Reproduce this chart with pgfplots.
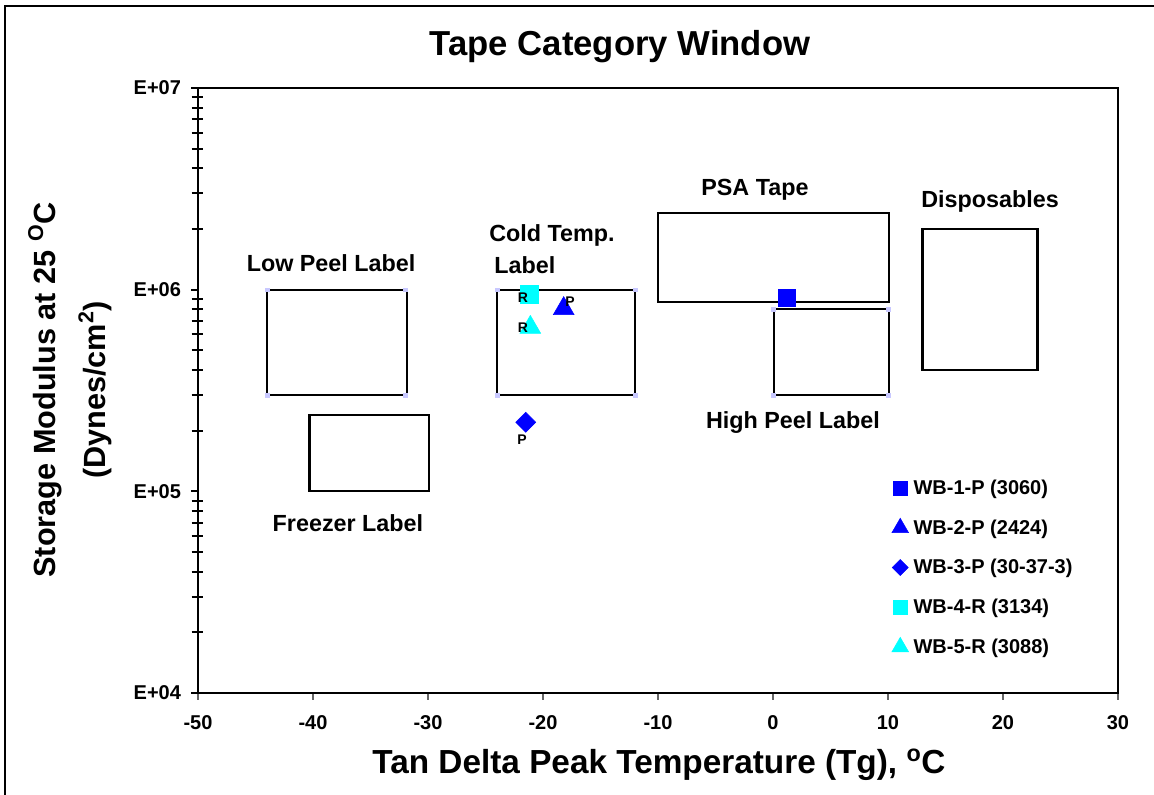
\documentclass[border=0pt]{standalone}
\usepackage{pgfplots}
\pgfplotsset{compat=1.18}
\usepackage{fontspec}
\setmainfont{Liberation Sans}
\definecolor{wbblue}{RGB}{0,0,255}
\definecolor{wbcyan}{RGB}{0,255,255}
\definecolor{lav}{RGB}{200,200,255}
\begin{document}
\begin{tikzpicture}
\useasboundingbox (0,0) rectangle (865.5pt,-596.25pt);
\draw[line width=1.5pt] (3.6pt,-600pt) -- (3.6pt,-4.5pt) -- (870pt,-4.5pt);
\node[font=\fontsize{26}{30}\selectfont\bfseries] at (465pt,-35.25pt) {Tape Category Window};
\node[font=\fontsize{25}{30}\selectfont\bfseries] at (494.25pt,-573.75pt) {Tan Delta Peak Temperature (Tg), \textsuperscript{o}C};
\node[rotate=90,font=\fontsize{23}{28}\selectfont\bfseries] at (33.75pt,-292.5pt) {Storage Modulus at 25 \textsuperscript{O}C};
\node[rotate=90,font=\fontsize{23}{28}\selectfont\bfseries] at (71.25pt,-292.5pt) {(Dynes/cm\textsuperscript{2})};
\begin{axis}[at={(148.5pt,-519.75pt)}, anchor=south west, scale only axis,
  width=690pt, height=453.75pt,
  xmin=-50, xmax=30, ymode=log, ymin=1e4, ymax=1e7,
  xtick={-50,-40,...,30}, xticklabels={-50,-40,-30,-20,-10,0,10,20,30},
  ytick={1e4,1e5,1e6,1e7}, yticklabels={E+04,E+05,E+06,E+07},
  minor ytick={2e4,3e4,4e4,5e4,6e4,7e4,8e4,9e4,2e5,3e5,4e5,5e5,6e5,7e5,8e5,9e5,2e6,3e6,4e6,5e6,6e6,7e6,8e6,9e6},
  xtick pos=bottom, ytick pos=left, tick align=outside,
  major tick length=5.25pt, minor tick length=8.5pt,
  minor y tick style={xshift=3.8pt},
  axis line style={line width=1.7pt},
  y tick style={line width=1.5pt, black},
  x tick style={line width=0.8pt, black!60},
  ticklabel style={font=\fontsize{15}{18}\selectfont\bfseries},
  xticklabel style={yshift=-8pt},
  yticklabel style={xshift=-4pt},
  clip=false,
  legend style={at={(rel axis cs:0.754,0.357)}, anchor=north west, draw=none, fill=none,
    font=\fontsize{15}{17}\selectfont\bfseries, row sep=13.4pt, inner sep=0pt},
  legend cell align=left,
  legend image code/.code={\path[draw=none,fill=none] (0pt,0pt) -- (14pt,0pt); \draw[#1, /tikz/every mark/.append style={scale=0.8}] plot coordinates {(6pt,0pt)};},
]
% box corner markers (light)
\addplot[only marks, mark=square*, mark size=1.4pt, lav, forget plot] coordinates {
 (-44,3e5)(-32,3e5)(-32,1e6)(-44,1e6)
 (-24,3e5)(-12,3e5)(-12,1e6)(-24,1e6)
 (0,3e5)(10,3e5)(10,8e5)(0,8e5)};
% category boxes
\addplot[black, line width=1.7pt, line cap=rect, forget plot] coordinates {(-44,3e5)(-31.8,3e5)(-31.8,1e6)(-44,1e6)(-44,3e5)};
\addplot[black, line width=1.7pt, line cap=rect, forget plot] coordinates {(-40.3,1e5)(-29.9,1e5)(-29.9,2.4e5)(-40.3,2.4e5)(-40.3,1e5)};
\addplot[black, line width=1.7pt, line cap=rect, forget plot] coordinates {(-24,3e5)(-12,3e5)(-12,1e6)(-24,1e6)(-24,3e5)};
\addplot[black, line width=1.7pt, line cap=rect, forget plot] coordinates {(-10,8.7e5)(10.1,8.7e5)(10.1,2.4e6)(-10,2.4e6)(-10,8.7e5)};
\addplot[black, line width=1.7pt, line cap=rect, forget plot] coordinates {(0.1,3e5)(10.1,3e5)(10.1,8e5)(0.1,8e5)(0.1,3e5)};
\addplot[black, line width=1.7pt, line cap=rect, forget plot] coordinates {(13,4e5)(23,4e5)(23,2e6)(13,2e6)(13,4e5)};
% samples
\addplot[only marks, mark=square*, mark size=6.3pt, wbblue] coordinates {(1.2,9.1e5)};
\addlegendentry{WB-1-P (3060)}
\addplot[only marks, mark=triangle*, mark size=9pt, wbblue] coordinates {(-18.2,8.05e5)};
\addlegendentry{WB-2-P (2424)}
\addplot[only marks, mark=square*, mark size=5.3pt, mark options={rotate=45}, wbblue] coordinates {(-21.5,2.2e5)};
\addlegendentry{WB-3-P (30-37-3)}
\addplot[only marks, mark=square*, mark size=6.5pt, wbcyan] coordinates {(-21.2,9.5e5)};
\addlegendentry{WB-4-R (3134)}
\addplot[only marks, mark=triangle*, mark size=9pt, wbcyan] coordinates {(-21.1,6.5e5)};
\addlegendentry{WB-5-R (3088)}
% anchors for point labels (drawn after the axis, above the marks)
\coordinate (lR1) at (rel axis cs:0.3533,0.6529);
\coordinate (lP1) at (rel axis cs:0.4043,0.6463);
\coordinate (lR2) at (rel axis cs:0.3533,0.6033);
\coordinate (lP2) at (rel axis cs:0.3522,0.4182);
% box labels
\tikzset{boxlab/.style={font=\fontsize{17.5}{21}\selectfont\bfseries}}
\node[boxlab] at (rel axis cs:0.6054,0.8314) {PSA Tape};
\node[boxlab] at (rel axis cs:0.8609,0.8116) {Disposables};
\node[boxlab] at (rel axis cs:0.3848,0.7570) {Cold Temp.};
\node[boxlab] at (rel axis cs:0.3554,0.7074) {Label};
\node[boxlab] at (rel axis cs:0.1446,0.7107) {Low Peel Label};
\node[boxlab] at (rel axis cs:0.1630,0.2810) {Freezer Label};
\node[boxlab] at (rel axis cs:0.6467,0.4463) {High Peel Label};
\end{axis}
\tikzset{ptlab/.style={font=\fontsize{10.5}{12}\selectfont\bfseries}}
\node[ptlab] at (lR1) {R};
\node[ptlab] at (lP1) {P};
\node[ptlab] at (lR2) {R};
\node[ptlab] at (lP2) {P};
\end{tikzpicture}
\end{document}
